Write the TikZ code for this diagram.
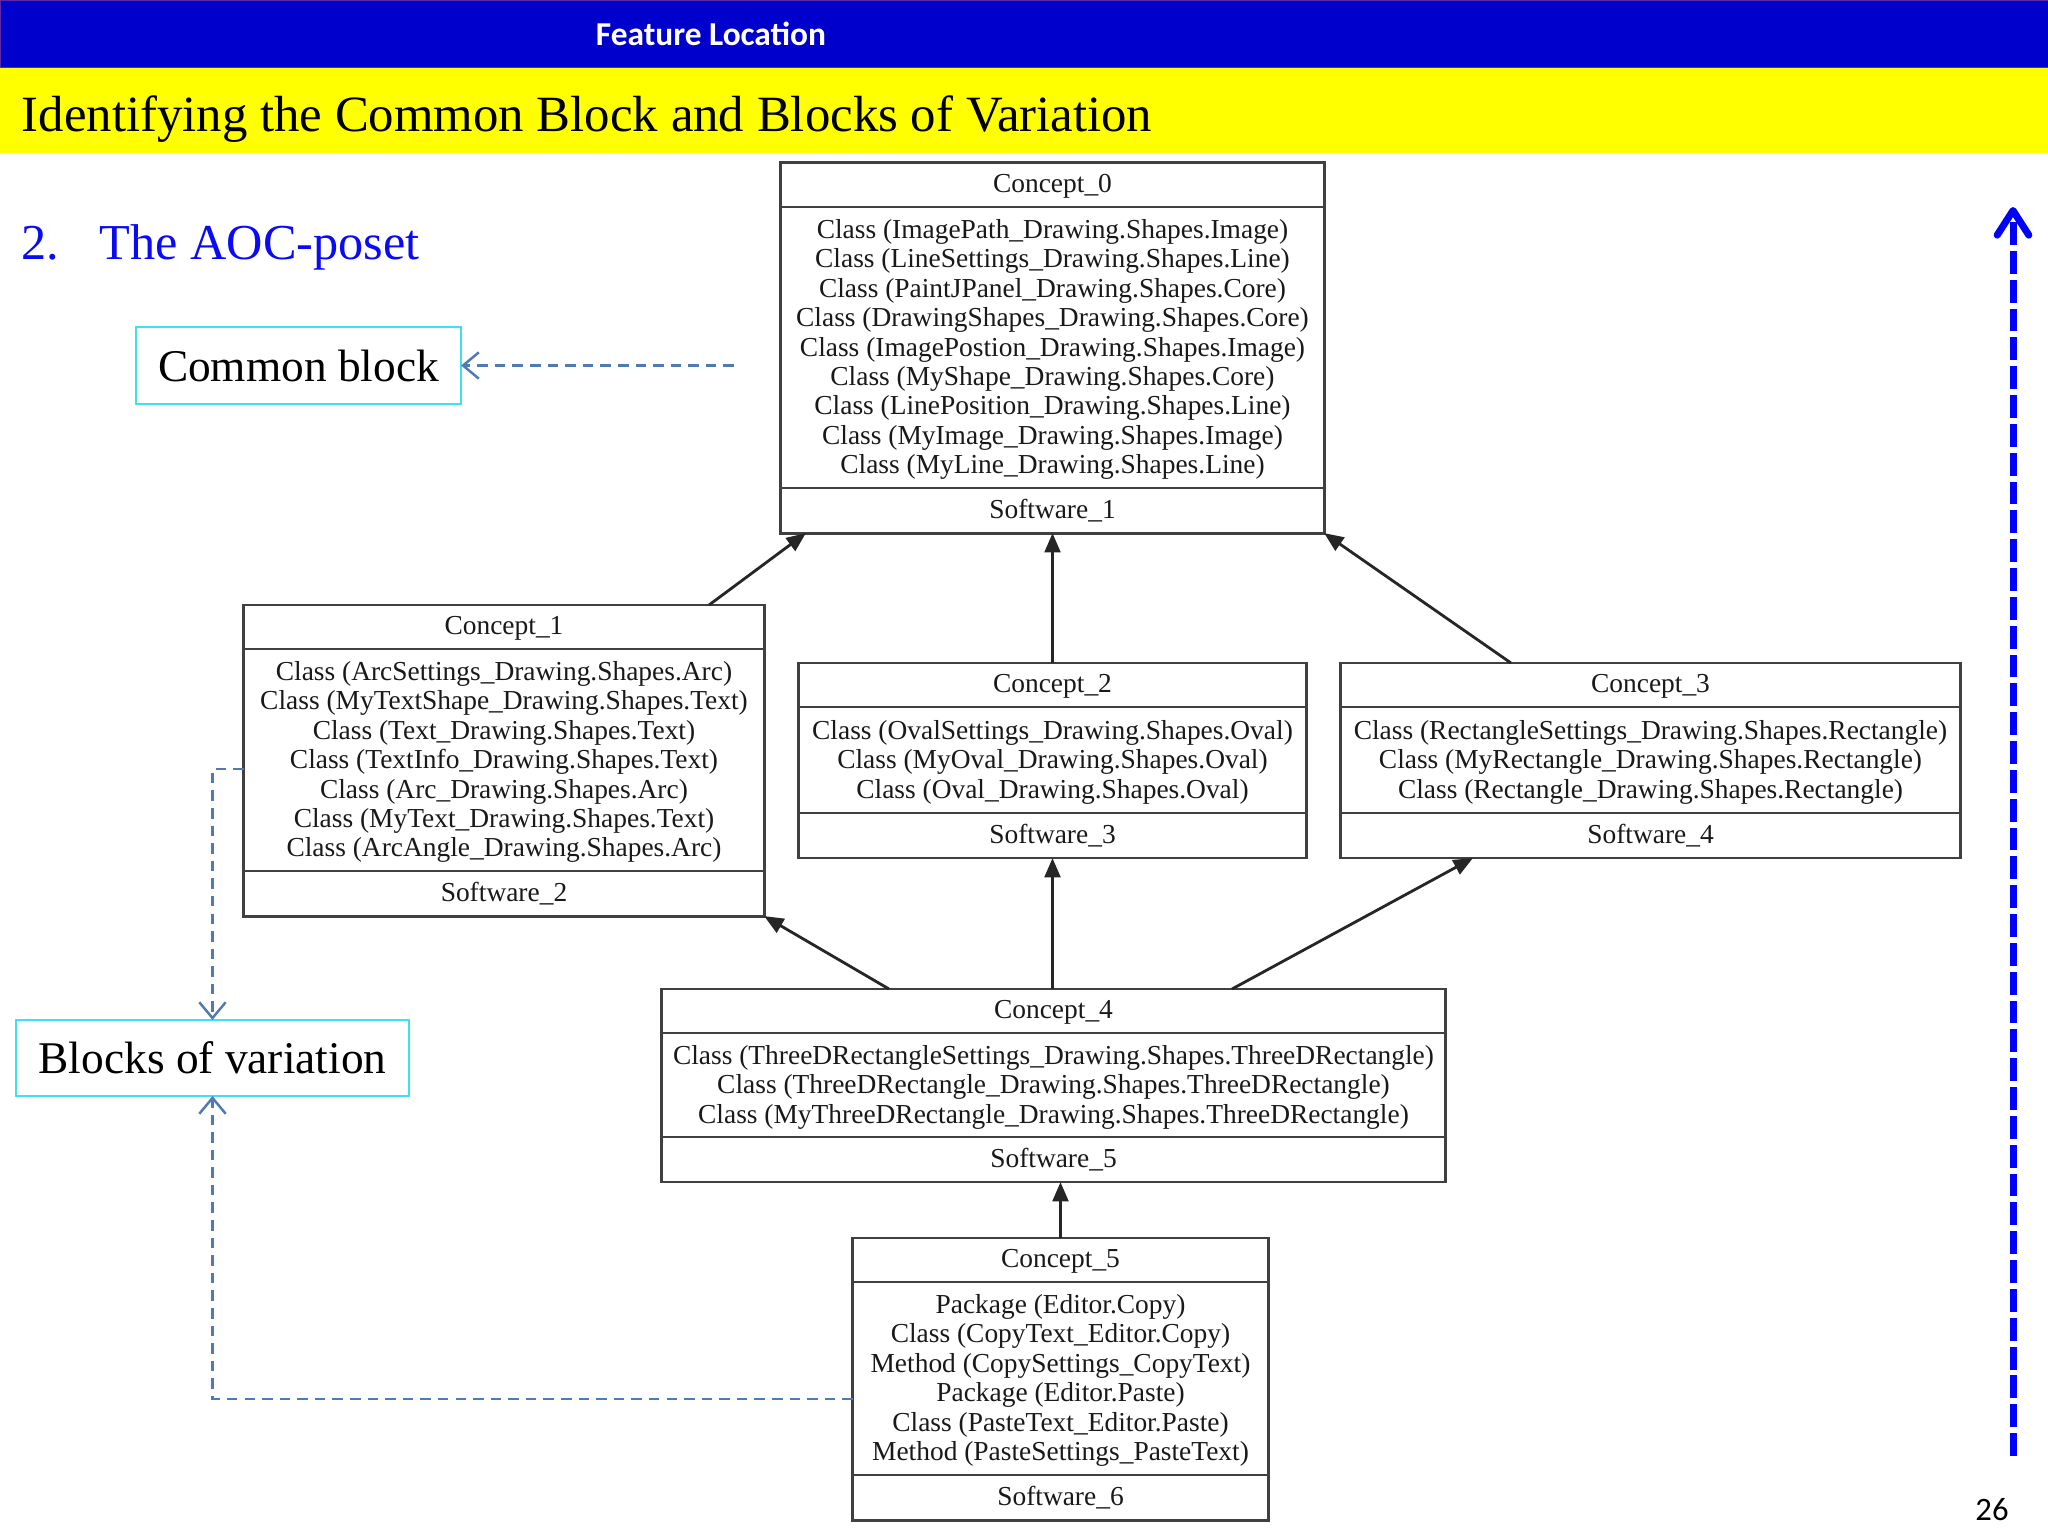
\documentclass[tikz,border=0pt]{standalone}
\usepackage{fontspec}
\setmainfont{Liberation Serif}
\newfontfamily\calibri{Carlito}
\usetikzlibrary{arrows.meta,calc}
\definecolor{barblue}{RGB}{0,0,205}
\definecolor{barborder}{RGB}{90,40,170}
\definecolor{baryellow}{RGB}{255,255,0}
\definecolor{dashblue}{RGB}{79,122,180}
\definecolor{cyanbox}{RGB}{64,224,240}
\definecolor{linkblue}{RGB}{0,0,255}
\definecolor{titleblue}{RGB}{10,10,245}
\newcommand\conceptbox[8]{%
  \node[cbox, minimum width=#4, minimum height=#5] (#1) at (#2,#3) {};
  \draw[sepline] ([yshift=-0.44cm]#1.north west) -- ([yshift=-0.44cm]#1.north east);
  \draw[sepline] ([yshift=0.45cm]#1.south west) -- ([yshift=0.45cm]#1.south east);
  \node[ctext, anchor=base] (#1-h) at ([yshift=-0.30cm]#1.north) {#6};
  \node[ctext, align=center] (#1-b) at ([yshift=-0.015cm]#1.center) {#7};
  \node[ctext, anchor=base] (#1-f) at ([yshift=0.15cm]#1.south) {#8};
}
\begin{document}
\begin{tikzpicture}[x=0.01cm,y=-0.01cm,
  cbox/.style={draw=black!75, line width=0.8pt, inner sep=0pt, outer sep=0pt, fill=white},
  sepline/.style={draw=black!75, line width=0.8pt},
  ctext/.style={inner sep=0pt, text=black!90, font={\fontsize{7.8pt}{8.37pt}\selectfont}},
  isa/.style={draw=black!85, line width=0.8pt, -{Triangle[length=5.5pt,width=4.5pt]}},
  annot/.style={draw=dashblue, line width=0.7pt, dash pattern=on 3pt off 2pt, -{Straight Barb[length=4.5pt,width=7.5pt]}},
  labelbox/.style={draw=cyanbox, line width=0.6pt, inner sep=0pt, outer sep=0pt, font={\fontsize{12.9pt}{15pt}\selectfont}},
  bigarrow/.style={draw=linkblue, line width=2pt, dash pattern=on 6.5pt off 1.7pt, -{Straight Barb[round,length=7pt,width=9pt]}}
]
\useasboundingbox (0,0) rectangle (2048,1536);
\fill[white] (0,0) rectangle (2048,1536);
% header bars
\node[fill=barblue, draw=barborder, line width=0.8pt, minimum width=20.48cm, minimum height=0.68cm, anchor=north west, inner sep=0pt, outer sep=0pt] (topbar) at (0,0) {};
\node[fill=baryellow, minimum width=20.48cm, minimum height=0.85cm, anchor=north west, inner sep=0pt, outer sep=0pt] (titlebar) at (0,68) {};
\node[font={\calibri\bfseries\fontsize{9.5pt}{11pt}\selectfont}, text=white, inner sep=0pt, anchor=base] (ftitle) at (711,45) {Feature Location};
\node[anchor=base west, inner sep=0pt, font={\fontsize{14.45pt}{17pt}\selectfont}] (title) at (21,131) {Identifying the Common Block and Blocks of Variation};
\node[anchor=base west, inner sep=0pt, text=titleblue, font={\fontsize{14.3pt}{17pt}\selectfont}] (secnum) at (21,259) {2.};
\node[anchor=base west, inner sep=0pt, text=titleblue, font={\fontsize{14.3pt}{17pt}\selectfont}] (sectitle) at (99,259) {The AOC-poset};
% concepts
\conceptbox{c0}{1052.5}{348}{5.43cm}{3.70cm}{Concept\_0}{%
Class (ImagePath\_Drawing.Shapes.Image)\\
Class (LineSettings\_Drawing.Shapes.Line)\\
Class (PaintJPanel\_Drawing.Shapes.Core)\\
Class (DrawingShapes\_Drawing.Shapes.Core)\\
Class (ImagePostion\_Drawing.Shapes.Image)\\
Class (MyShape\_Drawing.Shapes.Core)\\
Class (LinePosition\_Drawing.Shapes.Line)\\
Class (MyImage\_Drawing.Shapes.Image)\\
Class (MyLine\_Drawing.Shapes.Line)}{Software\_1}
\conceptbox{c1}{504}{760.5}{5.20cm}{3.11cm}{Concept\_1}{%
Class (ArcSettings\_Drawing.Shapes.Arc)\\
Class (MyTextShape\_Drawing.Shapes.Text)\\
Class (Text\_Drawing.Shapes.Text)\\
Class (TextInfo\_Drawing.Shapes.Text)\\
Class (Arc\_Drawing.Shapes.Arc)\\
Class (MyText\_Drawing.Shapes.Text)\\
Class (ArcAngle\_Drawing.Shapes.Arc)}{Software\_2}
\conceptbox{c2}{1052.5}{760.5}{5.07cm}{1.95cm}{Concept\_2}{%
Class (OvalSettings\_Drawing.Shapes.Oval)\\
Class (MyOval\_Drawing.Shapes.Oval)\\
Class (Oval\_Drawing.Shapes.Oval)}{Software\_3}
\conceptbox{c3}{1650.5}{760.5}{6.19cm}{1.95cm}{Concept\_3}{%
Class (RectangleSettings\_Drawing.Shapes.Rectangle)\\
Class (MyRectangle\_Drawing.Shapes.Rectangle)\\
Class (Rectangle\_Drawing.Shapes.Rectangle)}{Software\_4}
\conceptbox{c4}{1053.5}{1085.5}{7.83cm}{1.93cm}{Concept\_4}{%
Class (ThreeDRectangleSettings\_Drawing.Shapes.ThreeDRectangle)\\
Class (ThreeDRectangle\_Drawing.Shapes.ThreeDRectangle)\\
Class (MyThreeDRectangle\_Drawing.Shapes.ThreeDRectangle)}{Software\_5}
\conceptbox{c5}{1060.5}{1379}{4.15cm}{2.82cm}{Concept\_5}{%
Package (Editor.Copy)\\
Class (CopyText\_Editor.Copy)\\
Method (CopySettings\_CopyText)\\
Package (Editor.Paste)\\
Class (PasteText\_Editor.Paste)\\
Method (PasteSettings\_PasteText)}{Software\_6}
% order arrows
\draw[isa] ([xshift=2.05cm]c1.north) -- ([xshift=-2.465cm]c0.south);
\draw[isa] (c2.north) -- (c0.south);
\draw[isa] ([xshift=-1.395cm]c3.north) -- (c0.south east);
\draw[isa] ([xshift=-1.645cm]c4.north) -- (c1.south east);
\draw[isa] (c4.north -| c2.south) -- (c2.south);
\draw[isa] ([xshift=1.785cm]c4.north) -- ([xshift=-1.775cm]c3.south);
\draw[isa] (c5.north) -- (c5.north |- c4.south);
% annotation boxes
\node[labelbox, minimum width=3.25cm, minimum height=0.77cm] (cb) at (298.5,365.5) {Common block};
\node[labelbox, minimum width=3.93cm, minimum height=0.76cm] (bv) at (212.5,1058) {Blocks of variation};
\coordinate (cbsrc) at (734,365.5);
\draw[annot] (cbsrc) -- (cb.east);
\draw[annot] ([yshift=-0.085cm]c1.west) -| (bv.north);
\draw[annot] ([yshift=-0.2cm]c5.west) -| (bv.south);
% big arrow
\coordinate (ra0) at (2013,1456);
\coordinate (ra1) at (2013,207);
\draw[bigarrow] (ra0) -- (ra1);
% page number
\node[font={\calibri\fontsize{9.3pt}{11pt}\selectfont}, inner sep=0pt] (pnum) at (1992,1510) {26};
\end{tikzpicture}
\end{document}
